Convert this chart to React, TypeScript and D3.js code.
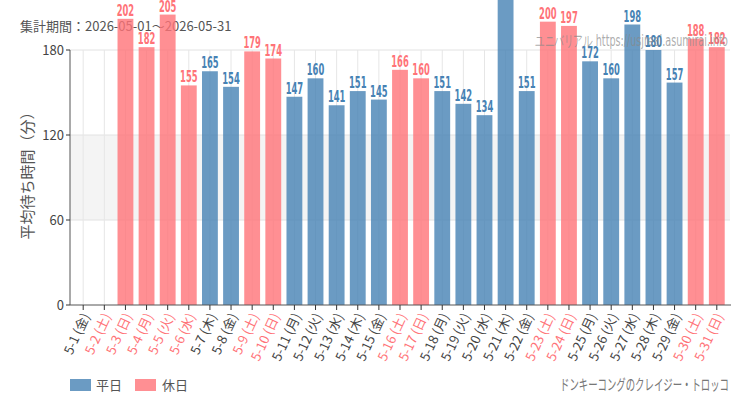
import * as d3 from "d3";

const days = [
  "5-1", "5-2", "5-3", "5-4", "5-5", "5-6", "5-7", "5-8", "5-9", "5-10",
  "5-11", "5-12", "5-13", "5-14", "5-15", "5-16", "5-17", "5-18", "5-19", "5-20",
  "5-21", "5-22", "5-23", "5-24", "5-25", "5-26", "5-27", "5-28", "5-29", "5-30", "5-31",
];
const weekdays = [
  "金", "土", "日", "月", "火", "水", "木", "金", "土", "日",
  "月", "火", "水", "木", "金", "土", "日", "月", "火", "水",
  "木", "金", "土", "日", "月", "火", "水", "木", "金", "土", "日",
];
// 1 = 休日, 0 = 平日
const holiday = [
  0, 1, 1, 1, 1, 1, 0, 0, 1, 1,
  0, 0, 0, 0, 0, 1, 1, 0, 0, 0,
  0, 0, 1, 1, 0, 0, 0, 0, 0, 1, 1,
];
const waits: (number | null)[] = [
  null, null, 202, 182, 205, 155, 165, 154, 179, 174,
  147, 160, 141, 151, 145, 166, 160, 151, 142, 134,
  226, 151, 200, 197, 172, 160, 198, 180, 157, 188, 182,
];
const yTicks = [0, 60, 120, 180];

const W = 750;
const H = 410;
const BLUE = "#4682b4";
const PINK = "#ff7378";
const SANS = "'DejaVu Sans', sans-serif";
const JP = "'Noto Sans CJK JP', sans-serif";

export default function App() {
  const x = d3.scaleBand<string>().domain(days).range([70, 730]).padding(0.25);
  const y = d3.scaleLinear().domain([0, 180]).range([305, 50]);
  const cx = (d: string) => (x(d) ?? 0) + x.bandwidth() / 2;

  return (
    <svg width={W} height={H} style={{ position: "absolute", left: 0, top: 0, background: "#fff" }}>
      <text x={20} y={31} fontSize={13} fill="#555" fontFamily={JP}>
        集計期間：2026-05-01～2026-05-31
      </text>

      {/* band + grid */}
      <rect x={70} y={y(120)} width={660} height={y(60) - y(120)} fill="#f4f4f4" />
      {yTicks.slice(1).map((t) => (
        <line key={t} x1={70} x2={730} y1={y(t)} y2={y(t)} stroke="#e2e2e2" />
      ))}
      {days.map((d) => (
        <line key={d} x1={cx(d)} x2={cx(d)} y1={y(180)} y2={y(0)} stroke="#e6e6e6" />
      ))}

      {/* bars */}
      {days.map((d, i) => {
        const v = waits[i];
        if (v == null) return null;
        return (
          <rect
            key={d}
            x={x(d)}
            y={y(v)}
            width={x.bandwidth()}
            height={y(0) - y(v)}
            fill={holiday[i] ? PINK : BLUE}
            fillOpacity={0.8}
          />
        );
      })}
      {days.map((d, i) => {
        const v = waits[i];
        if (v == null) return null;
        // narrow numerals: squeeze horizontally
        return (
          <g key={d} transform={`translate(${cx(d)},${y(v) - 3}) scale(0.56,1)`}>
            <text
              textAnchor="middle"
              fontSize={15}
              fontWeight="bold"
              fontFamily={SANS}
              fill={holiday[i] ? PINK : BLUE}
            >
              {v}
            </text>
          </g>
        );
      })}

      {/* axes */}
      <line x1={70} x2={70} y1={y(180)} y2={y(0)} stroke="#555" />
      <line x1={70} x2={731} y1={y(0)} y2={y(0)} stroke="#555" />
      {yTicks.map((t) => (
        <g key={t}>
          <line x1={66} x2={70} y1={y(t)} y2={y(t)} stroke="#333" />
          <text x={64} y={y(t)} dy="0.35em" textAnchor="end" fontSize={13} fill="#444" fontFamily={JP}>
            {t}
          </text>
        </g>
      ))}
      {days.map((d, i) => (
        <g key={d} transform={`translate(${cx(d)},${y(0)})`}>
          <line y1={0} y2={5} stroke="#333" />
          <text
            transform="translate(3,9) rotate(-65)"
            textAnchor="end"
            dy="0.35em"
            fontSize={13}
            fontFamily={JP}
            fill={holiday[i] ? PINK : "#444"}
          >
            {`${d} (${weekdays[i]})`}
          </text>
        </g>
      ))}

      <text
        transform="translate(33,172) rotate(-90)"
        textAnchor="middle"
        fontSize={15}
        fill="#555"
        fontFamily={JP}
      >
        平均待ち時間（分）
      </text>

      {/* watermark */}
      <text
        x={535}
        y={46}
        fontSize={15}
        fill="#888"
        fillOpacity={0.7}
        fontFamily={SANS}
        textLength={193}
        lengthAdjust="spacingAndGlyphs"
      >
        ユニバリアル  https://usjreal.asumirai.info
      </text>

      {/* legend */}
      <rect x={70} y={379} width={21} height={12} fill={BLUE} fillOpacity={0.8} />
      <text x={96} y={390} fontSize={13} fill="#555" fontFamily={JP}>平日</text>
      <rect x={135} y={379} width={21} height={12} fill={PINK} fillOpacity={0.8} />
      <text x={162} y={390} fontSize={13} fill="#555" fontFamily={JP}>休日</text>

      <text
        x={729}
        y={390}
        textAnchor="end"
        fontSize={15}
        fill="#777"
        fontFamily={JP}
        textLength={169}
        lengthAdjust="spacingAndGlyphs"
      >
        ドンキーコングのクレイジー・トロッコ
      </text>
    </svg>
  );
}
